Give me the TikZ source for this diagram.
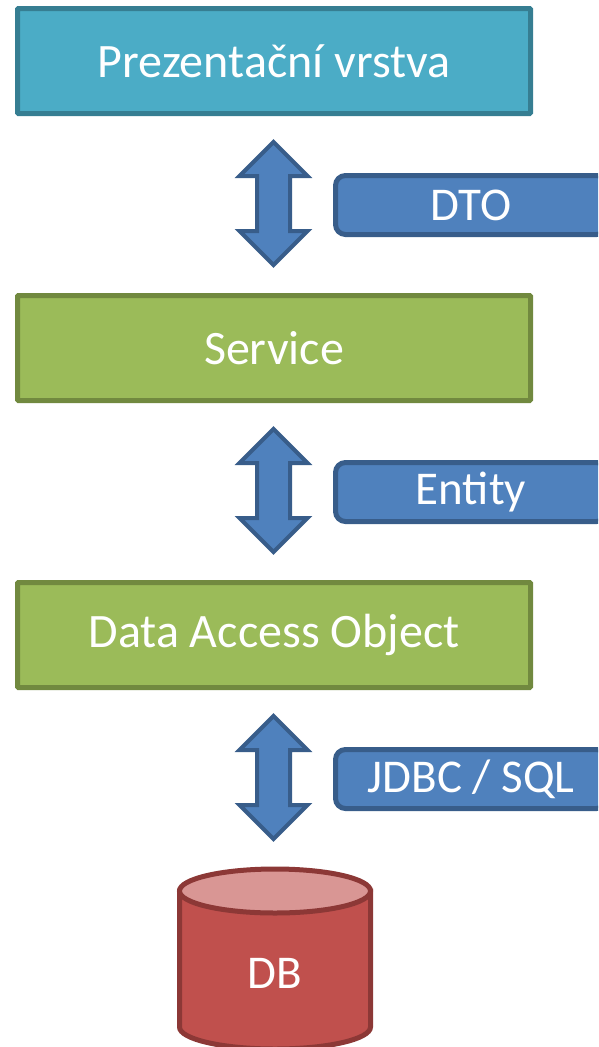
\documentclass[tikz,border=0pt]{standalone}
\usepackage{fontspec}
\setmainfont{Carlito}
\usetikzlibrary{positioning}
\definecolor{presfill}{HTML}{4BACC6}
\definecolor{presline}{HTML}{367E92}
\definecolor{layerfill}{HTML}{9BBB59}
\definecolor{layerline}{HTML}{71893F}
\definecolor{tagfill}{HTML}{4F81BD}
\definecolor{tagline}{HTML}{385D8A}
\definecolor{dbfill}{HTML}{C0504D}
\definecolor{dbtop}{HTML}{D99694}
\definecolor{dbline}{HTML}{8C3836}
\tikzset{
  layer/.style={draw=layerline, fill=layerfill, line width=5pt, rounded corners=1pt,
    minimum width=513pt, minimum height=105pt, inner sep=0pt, text=white,
    font=\fontsize{48}{57}\selectfont},
  tag/.style={draw=tagline, fill=tagfill, line width=5pt, rounded corners=10pt,
    minimum width=271pt, minimum height=59pt, inner sep=0pt, text=white,
    font=\fontsize{47}{56}\selectfont},
  blockarrow/.style={draw=tagline, fill=tagfill, line width=4pt, line join=miter},
}
\begin{document}
\begin{tikzpicture}[x=1pt,y=-1pt]
\clip (0,0) rectangle (598,1047);
% vrstvy
\node[layer, draw=presline, fill=presfill] (pres) at (274,61){Prezentační vrstva};
\node[layer] (service) at (274,348){Service};
\node[layer] (dao) at (274,635){Data Access Object};
% predavane objekty
\node[tag] (dto) at (471,205){DTO};
\node[tag] (entity) at (471,492){Entity};
\node[tag] (jdbc) at (471,779){JDBC / SQL};
% sipky
\coordinate (arr1) at (273.5,203.5);
\coordinate (arr2) at (273.5,490.5);
\coordinate (arr3) at (273.5,777.5);
\draw[blockarrow, shift={(arr1)}] (0,-61.5) -- (34,-27.5) -- (16.5,-27.5) -- (16.5,27.5) -- (34,27.5) -- (0,61.5) -- (-34,27.5) -- (-16.5,27.5) -- (-16.5,-27.5) -- (-34,-27.5) -- cycle;
\draw[blockarrow, shift={(arr2)}] (0,-61.5) -- (34,-27.5) -- (16.5,-27.5) -- (16.5,27.5) -- (34,27.5) -- (0,61.5) -- (-34,27.5) -- (-16.5,27.5) -- (-16.5,-27.5) -- (-34,-27.5) -- cycle;
\draw[blockarrow, shift={(arr3)}] (0,-61.5) -- (34,-27.5) -- (16.5,-27.5) -- (16.5,27.5) -- (34,27.5) -- (0,61.5) -- (-34,27.5) -- (-16.5,27.5) -- (-16.5,-27.5) -- (-34,-27.5) -- cycle;
% databaze
\draw[draw=dbline, fill=dbfill, line width=5pt] (179.5,891) -- (179.5,1027)
  arc[start angle=180, end angle=360, x radius=95.5pt, y radius=22pt] -- (370.5,891) -- cycle;
\draw[draw=dbline, fill=dbtop, line width=5pt] (275,891) ellipse [x radius=95.5pt, y radius=22pt];
\node[text=white, font=\fontsize{47}{56}\selectfont] (db) at (275,973){DB};
\end{tikzpicture}
\end{document}
